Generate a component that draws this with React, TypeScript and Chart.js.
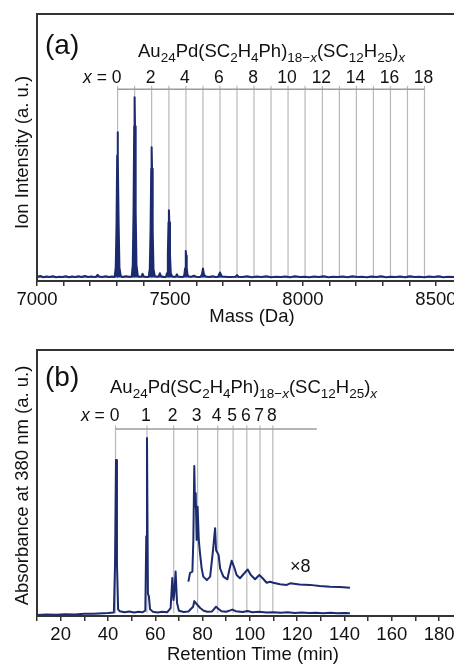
import React, { useEffect, useRef } from 'react';
import { Chart, registerables } from 'chart.js';

Chart.register(...registerables);

// ---------------- Panel (a): mass spectrum ----------------
const MS_MASS = [
  7000, 7012, 7024, 7036, 7048, 7060, 7072, 7084, 7096, 7108, 7120, 7132, 7144, 7156, 7168, 7180, 7192, 7204,
  7216, 7222, 7228, 7234, 7246, 7258, 7270, 7282, 7289,
  7292, 7296, 7299, 7301.5, 7303, 7304.5, 7307, 7310, 7315, 7322, 7334, 7346,
  7356, 7360, 7363, 7365.5, 7367, 7368.5, 7371, 7374, 7379, 7385, 7393, 7397, 7401, 7412,
  7420, 7424, 7427, 7429.5, 7431, 7432.5, 7435, 7438, 7443, 7452, 7458, 7462, 7466, 7478,
  7485, 7489, 7492, 7494.5, 7496, 7497.5, 7500, 7503, 7508, 7516, 7522, 7526, 7530, 7545,
  7550, 7554, 7557, 7559, 7560, 7561, 7563, 7566, 7571, 7582, 7590, 7598, 7610,
  7615, 7620, 7624, 7628, 7634, 7650, 7660, 7672,
  7681, 7688, 7695, 7720, 7746, 7752, 7758,
  7772, 7790, 7808, 7826, 7844, 7862, 7880, 7898, 7916, 7934, 7952, 7970, 7988, 8006, 8024, 8042, 8060,
  8078, 8096, 8114, 8132, 8150, 8168, 8186, 8204, 8222, 8240, 8258, 8276, 8294, 8312, 8330, 8348, 8366,
  8384, 8402, 8420, 8438, 8456, 8474, 8492, 8510, 8528, 8546, 8570,
];
const MS_INTENSITY = [
  1.5, 1.9, 1.4, 1.7, 1.5, 1.8, 1.4, 1.6, 1.5, 1.8, 1.4, 1.7, 1.5, 1.8, 1.5, 1.9, 1.5, 1.7,
  1.5, 1.6, 2.3, 1.7, 1.5, 1.8, 1.5, 1.7, 1.5,
  1.6, 5, 21, 47, 55.7, 47, 21, 5, 1.8, 1.5, 1.8, 1.6,
  1.6, 6, 26, 58, 68.8, 58, 26, 6, 1.8, 1.6, 1.7, 2.7, 1.7, 1.5,
  1.6, 4.5, 19, 42, 50.1, 42, 19, 4.5, 1.8, 1.6, 1.8, 2.9, 1.8, 1.5,
  1.6, 3, 10, 22, 26.5, 22, 10, 3, 1.7, 1.6, 1.7, 2.5, 1.7, 1.5,
  1.6, 2.3, 4.8, 9.5, 11.2, 9.5, 4.8, 2.3, 1.7, 1.6, 2.0, 1.6, 1.5,
  1.6, 2.4, 4.7, 2.4, 1.7, 1.5, 1.8, 1.5,
  1.6, 3.2, 1.7, 1.5, 1.6, 2.2, 1.6,
  1.5, 1.8, 1.4, 1.7, 1.5, 1.8, 1.4, 1.6, 1.5, 1.7, 1.4, 1.8, 1.5, 1.6, 1.4, 1.7, 1.5,
  1.8, 1.4, 1.6, 1.5, 1.7, 1.4, 1.8, 1.5, 1.6, 1.4, 1.7, 1.5, 1.8, 1.4, 1.6, 1.5, 1.7,
  1.4, 1.8, 1.5, 1.6, 1.4, 1.7, 1.5, 1.8, 1.4, 1.6, 1.5,
];
const MASS_TICKS = [7000, 7100, 7200, 7300, 7400, 7500, 7600, 7700, 7800, 7900, 8000, 8100, 8200, 8300, 8400, 8500];
const MASS_LABELS = [7000, 7500, 8000, 8500];
const COMB_A = [7303, 7367, 7431, 7496, 7560, 7624, 7688, 7752, 7816, 7880, 7944, 8008, 8073, 8137, 8201, 8265, 8329, 8393, 8457];
const COMB_A_LABELS = ['0', '', '2', '', '4', '', '6', '', '8', '', '10', '', '12', '', '14', '', '16', '', '18'];

// ---------------- Panel (b): chromatogram ----------------
const LC_TIME = [
  10, 14, 18, 22, 26, 30, 34, 38, 40, 42.5, 43.0, 43.4, 43.8, 44.3, 45, 47, 49, 51, 53, 54.5,
  55.8, 56.2, 56.5, 56.9, 57.3, 57.8, 59, 61, 63, 65, 66.5, 67.2, 67.7, 68.0, 68.6, 69.2, 70, 72, 74,
  76.0, 76.5, 77.2, 78, 79, 80.5, 82, 84, 85.2, 85.7, 86.5, 88, 90, 92, 92.6, 94, 97, 99, 101, 104, 107, 110,
  113, 116, 119, 122, 125, 128, 131, 134, 137, 140, 142.3,
];
const LC_ABS = [
  0.4, 0.6, 0.5, 0.7, 0.6, 0.8, 0.8, 1.0, 1.1, 1.3, 20, 58.6, 20, 2.5, 1.8, 1.4, 1.7, 1.3, 1.6, 1.4,
  2.0, 30, 66.9, 8.3, 7.5, 2.5, 1.6, 1.3, 1.6, 1.4, 3, 14.3, 6, 8, 16.7, 5, 2, 1.5, 1.7,
  3.5, 5.6, 4.8, 4.0, 3.0, 2.0, 1.6, 1.7, 3.0, 3.5, 2.8, 1.8, 1.6, 2.2, 2.4, 1.8, 1.5, 1.9, 1.4, 1.6, 1.3, 1.4,
  1.2, 1.4, 1.1, 1.3, 1.1, 1.2, 1.0, 1.2, 1.0, 1.1, 1.0,
];
const X8_TIME = [
  74.0, 74.7, 75.7, 76.1, 76.5, 76.8, 77.1, 77.5, 77.9, 78.4, 78.9, 79.6, 80.3, 81.8, 83.2, 84.3, 85.3, 85.7,
  86.1, 86.8, 87.4, 88.8, 90.5, 91.3, 92.3, 93.3, 94.4, 95.8, 97.0, 99.1, 100.4, 102.2, 104.0, 105.4, 107.1,
  108.5, 109.9, 112.7, 115.6, 117.0, 121.0, 125.4, 129.5, 133.9, 138.0, 142.3,
];
const X8_ABS = [
  12.9, 16.2, 16.7, 28.6, 56.4, 41.1, 46.2, 28.6, 41.1, 28.6, 23.7, 18.0, 14.8, 13.5, 14.8, 23.7, 33.0, 24.8,
  24.8, 22.9, 17.9, 14.8, 13.8, 17.3, 20.8, 18.5, 15.4, 14.2, 15.4, 17.5, 15.4, 13.8, 15.4, 14.2, 12.5,
  12.9, 12.5, 11.9, 11.7, 12.3, 11.8, 11.7, 11.3, 11.0, 10.9, 10.6,
];
const TIME_TICKS = [10, 20, 30, 40, 50, 60, 70, 80, 90, 100, 110, 120, 130, 140, 150, 160, 170, 180];
const TIME_LABELS = [20, 40, 60, 80, 100, 120, 140, 160, 180];
const COMB_B = [43.2, 56.5, 67.8, 77.9, 86.4, 92.9, 98.7, 104.3, 109.7];
const COMB_B_LABELS = ['0', '1', '2', '3', '4', '5', '6', '7', '8'];

const FONT = '"Liberation Sans", Arial, Helvetica, sans-serif';
const NAVY = '#1c2a6e';
const FRAME = '#333333';
const COMB_LINE = '#b8b8b8';
const COMB_BAR = '#9c9c9c';

type Seg = { t: string; sub?: boolean; it?: boolean };
const FORMULA: Seg[] = [
  { t: 'Au' }, { t: '24', sub: true }, { t: 'Pd(SC' }, { t: '2', sub: true }, { t: 'H' }, { t: '4', sub: true },
  { t: 'Ph)' }, { t: '18\u2212', sub: true }, { t: 'x', sub: true, it: true }, { t: '(SC' }, { t: '12', sub: true },
  { t: 'H' }, { t: '25', sub: true }, { t: ')' }, { t: 'x', sub: true, it: true },
];

type DecorOpts = {
  comb: number[];
  combLabels: string[];
  combBar: number;
  combFoot: number;
  combBarEnd: number;
  labelBaseline: number;
  letter: string;
  letterX: number;
  letterBaseline: number;
  formulaX: number;
  formulaBaseline: number;
  yTitle: string;
  yTitleX: number;
  yTitleY: number;
  xTitle: string;
  xTitleX: number;
  xTitleBaseline: number;
  note?: { text: string; x: number; y: number };
};

function makeDecor(o: DecorOpts) {
  return {
    id: 'decor',
    beforeDatasetsDraw(chart: any) {
      const { ctx } = chart;
      const xs = chart.scales.x;
      const ys = chart.scales.y;
      const top = ys.getPixelForValue(o.combBar);
      const foot = ys.getPixelForValue(o.combFoot);
      ctx.save();
      ctx.strokeStyle = COMB_LINE;
      ctx.lineWidth = 1.2;
      o.comb.forEach((v) => {
        const px = xs.getPixelForValue(v);
        ctx.beginPath();
        ctx.moveTo(px, top - 3.5);
        ctx.lineTo(px, foot);
        ctx.stroke();
      });
      ctx.strokeStyle = COMB_BAR;
      ctx.lineWidth = 1.6;
      ctx.beginPath();
      ctx.moveTo(xs.getPixelForValue(o.comb[0]), top);
      ctx.lineTo(xs.getPixelForValue(o.combBarEnd), top);
      ctx.stroke();
      ctx.restore();
    },
    afterDraw(chart: any) {
      const { ctx, chartArea } = chart;
      const xs = chart.scales.x;
      ctx.save();
      // frame
      ctx.strokeStyle = FRAME;
      ctx.lineWidth = 2;
      ctx.beginPath();
      ctx.moveTo(chartArea.right + 5, chartArea.top);
      ctx.lineTo(chartArea.left, chartArea.top);
      ctx.lineTo(chartArea.left, chartArea.bottom);
      ctx.lineTo(chartArea.right + 5, chartArea.bottom);
      ctx.stroke();

      ctx.fillStyle = '#111';
      ctx.textBaseline = 'alphabetic';
      // comb labels
      const ls = 17.5;
      o.combLabels.forEach((lab, i) => {
        if (!lab) return;
        const px = xs.getPixelForValue(o.comb[i]) - 1;
        ctx.font = `${ls}px ${FONT}`;
        ctx.textAlign = 'center';
        ctx.fillText(lab, px, o.labelBaseline);
        if (i === 0) {
          const w0 = ctx.measureText(lab).width;
          const eq = ' = ';
          const weq = ctx.measureText(eq).width;
          ctx.textAlign = 'left';
          const eqX = px - w0 / 2 - weq;
          ctx.fillText(eq, eqX, o.labelBaseline);
          ctx.font = `italic ${ls}px ${FONT}`;
          const wx = ctx.measureText('x').width;
          ctx.fillText('x', eqX - wx, o.labelBaseline);
        }
      });
      // panel letter
      ctx.textAlign = 'left';
      ctx.font = `28px ${FONT}`;
      ctx.fillText(o.letter, o.letterX, o.letterBaseline);
      // formula
      let cx = o.formulaX;
      FORMULA.forEach((s) => {
        const size = s.sub ? 13.5 : 18.5;
        ctx.font = `${s.it ? 'italic ' : ''}${size}px ${FONT}`;
        ctx.fillText(s.t, cx, s.sub ? o.formulaBaseline + 5 : o.formulaBaseline);
        cx += ctx.measureText(s.t).width;
      });
      // note
      if (o.note) {
        const ys = chart.scales.y;
        ctx.font = `18px ${FONT}`;
        ctx.fillText(o.note.text, xs.getPixelForValue(o.note.x), ys.getPixelForValue(o.note.y));
      }
      // x title
      ctx.font = `18.5px ${FONT}`;
      ctx.textAlign = 'center';
      ctx.fillText(o.xTitle, o.xTitleX, o.xTitleBaseline);
      // y title
      ctx.translate(o.yTitleX, o.yTitleY);
      ctx.rotate(-Math.PI / 2);
      ctx.textBaseline = 'middle';
      ctx.fillText(o.yTitle, 0, 0);
      ctx.restore();
    },
  };
}

function xScale(min: number, max: number, ticks: number[], labels: number[], height: number) {
  return {
    type: 'linear',
    position: 'bottom',
    min,
    max,
    afterBuildTicks: (s: any) => {
      s.ticks = ticks.map((v) => ({ value: v }));
    },
    afterFit: (s: any) => {
      s.height = height;
      s.paddingLeft = 0;
      s.paddingRight = 0;
    },
    grid: { drawOnChartArea: false, drawTicks: true, tickLength: 5, color: FRAME, lineWidth: 1.5 },
    border: { display: false },
    ticks: {
      autoSkip: false,
      maxRotation: 0,
      minRotation: 0,
      padding: 3,
      color: '#111',
      font: { family: FONT, size: 18.5 },
      callback: (v: any) => (labels.includes(Number(v)) ? String(v) : ''),
    },
  };
}

function configA(): any {
  return {
    type: 'line',
    data: {
      datasets: [
        {
          data: MS_MASS.map((m, i) => ({ x: m, y: MS_INTENSITY[i] })),
          borderColor: NAVY,
          backgroundColor: NAVY,
          borderWidth: 2,
          borderJoinStyle: 'round',
          pointRadius: 0,
          tension: 0,
          fill: { value: 1.3 },
        },
      ],
    },
    options: {
      animation: false,
      responsive: false,
      events: [],
      layout: { padding: { left: 37, top: 14, right: 0, bottom: 0 } },
      plugins: { legend: { display: false }, tooltip: { enabled: false } },
      scales: {
        x: xScale(7000, 8568, MASS_TICKS, MASS_LABELS, 52),
        y: { display: false, min: 0, max: 100 },
      },
    },
    plugins: [
      makeDecor({
        comb: COMB_A,
        combLabels: COMB_A_LABELS,
        combBar: 71.8,
        combFoot: 1.0,
        combBarEnd: COMB_A[COMB_A.length - 1],
        labelBaseline: 83,
        letter: '(a)',
        letterX: 45,
        letterBaseline: 54,
        formulaX: 138,
        formulaBaseline: 57,
        yTitle: 'Ion Intensity (a. u.)',
        yTitleX: 22.5,
        yTitleY: 152.5,
        xTitle: 'Mass (Da)',
        xTitleX: 252,
        xTitleBaseline: 322,
      }),
    ],
  };
}

function configB(): any {
  return {
    type: 'line',
    data: {
      datasets: [
        {
          data: LC_TIME.map((t, i) => ({ x: t, y: LC_ABS[i] })),
          borderColor: NAVY,
          borderWidth: 2,
          borderJoinStyle: 'round',
          pointRadius: 0,
          tension: 0,
          fill: false,
        },
        {
          data: X8_TIME.map((t, i) => ({ x: t, y: X8_ABS[i] })),
          borderColor: NAVY,
          borderWidth: 2,
          borderJoinStyle: 'round',
          pointRadius: 0,
          tension: 0,
          fill: false,
        },
      ],
    },
    options: {
      animation: false,
      responsive: false,
      events: [],
      layout: { padding: { left: 37, top: 17, right: 0, bottom: 0 } },
      plugins: { legend: { display: false }, tooltip: { enabled: false } },
      scales: {
        x: xScale(10, 186.3, TIME_TICKS, TIME_LABELS, 50),
        y: { display: false, min: 0, max: 100 },
      },
    },
    plugins: [
      makeDecor({
        comb: COMB_B,
        combLabels: COMB_B_LABELS,
        combBar: 70.3,
        combFoot: 1.0,
        combBarEnd: 128.3,
        labelBaseline: 87.7,
        letter: '(b)',
        letterX: 45,
        letterBaseline: 52.6,
        formulaX: 110,
        formulaBaseline: 60,
        yTitle: 'Absorbance at 380 nm (a. u.)',
        yTitleX: 22.5,
        yTitleY: 152.5,
        xTitle: 'Retention Time (min)',
        xTitleX: 253,
        xTitleBaseline: 327,
        note: { text: '\u00d78', x: 117, y: 16.5 },
      }),
    ],
  };
}

function Panel({ top, make }: { top: number; make: () => any }) {
  const ref = useRef<HTMLCanvasElement>(null);
  useEffect(() => {
    const chart = new Chart(ref.current as HTMLCanvasElement, make());
    return () => chart.destroy();
  }, [make]);
  return (
    <div style={{ position: 'absolute', left: 0, top, width: 454, height: 333 }}>
      <canvas ref={ref} width={454} height={333} style={{ display: 'block', width: 454, height: 333 }} />
    </div>
  );
}

export default function App() {
  return (
    <div style={{ position: 'fixed', left: 0, top: 0, width: 454, height: 666, overflow: 'hidden', background: '#fff' }}>
      <Panel top={0} make={configA} />
      <Panel top={333} make={configB} />
    </div>
  );
}
